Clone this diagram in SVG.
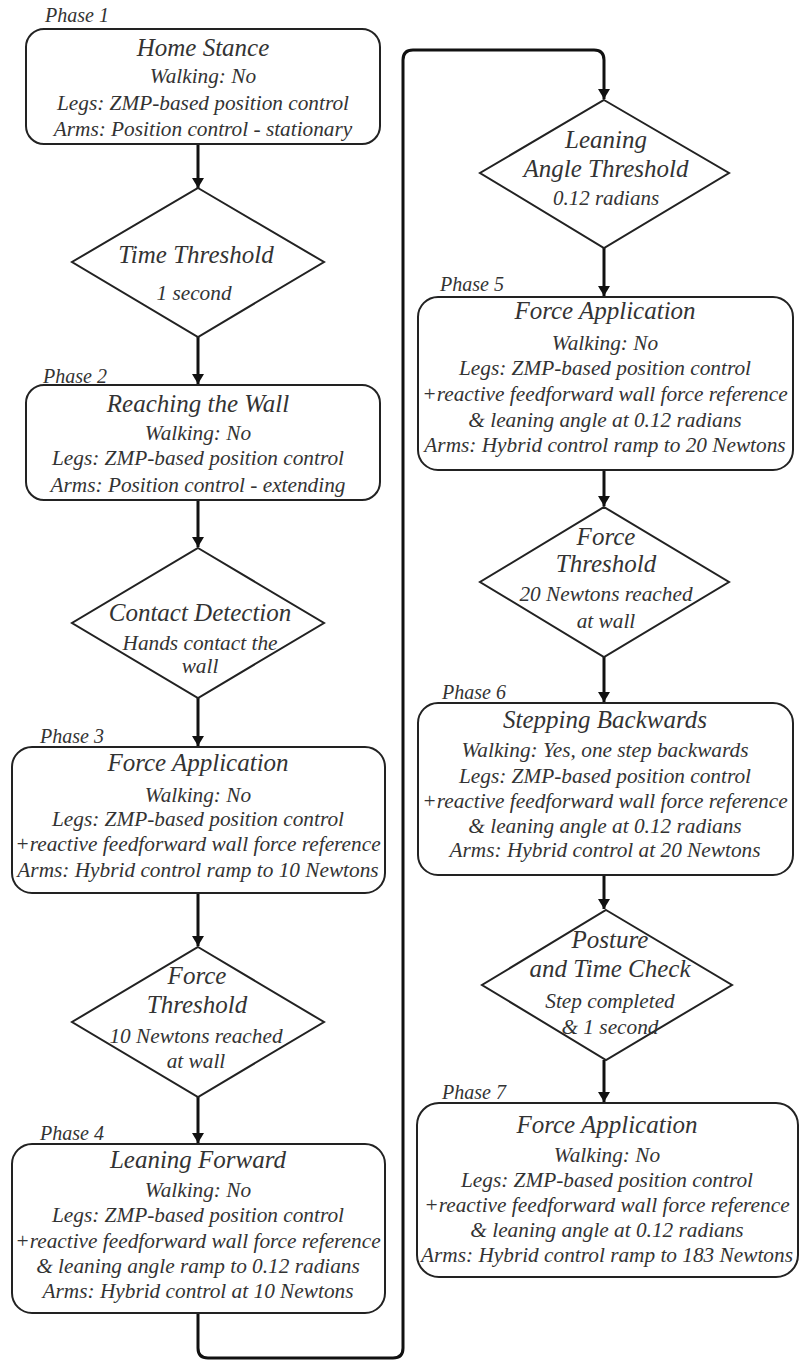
<svg xmlns="http://www.w3.org/2000/svg" width="801" height="1361" viewBox="0 0 801 1361">
<style>
.box{fill:#fff;stroke:#222;stroke-width:2}
.dia{fill:#fff;stroke:#222;stroke-width:2}
.con{fill:none;stroke:#111;stroke-width:3}
text{font-family:"Liberation Serif","Times New Roman",serif;font-style:italic;fill:#333;text-anchor:middle}
.ph{font-size:20px;text-anchor:start}
.ti{font-size:25px}
.bd{font-size:21.3px}
.sm{font-size:21px}
</style>
<defs>
<marker id="ah" markerWidth="10" markerHeight="14" refX="10" refY="7" orient="auto" markerUnits="userSpaceOnUse">
<path d="M0,1 L10,7 L0,13 Z" fill="#111"/>
</marker>
</defs>
<rect width="801" height="1361" fill="#fff"/>
<g id="connectors">
<line class="con" x1="198" y1="144" x2="198" y2="188" marker-end="url(#ah)"/>
<line class="con" x1="198" y1="337" x2="198" y2="384" marker-end="url(#ah)"/>
<line class="con" x1="198" y1="500" x2="198" y2="547" marker-end="url(#ah)"/>
<line class="con" x1="198" y1="698" x2="198" y2="746" marker-end="url(#ah)"/>
<line class="con" x1="198" y1="893" x2="198" y2="946" marker-end="url(#ah)"/>
<line class="con" x1="198" y1="1097" x2="198" y2="1143" marker-end="url(#ah)"/>
<path class="con" d="M198,1313 L198,1348 Q198,1358 208,1358 L393,1358 Q403,1358 403,1348 L403,60 Q403,50 413,50 L594,50 Q604,50 604,60 L604,99" marker-end="url(#ah)"/>
<line class="con" x1="604" y1="248" x2="604" y2="296" marker-end="url(#ah)"/>
<line class="con" x1="604" y1="470" x2="604" y2="506" marker-end="url(#ah)"/>
<line class="con" x1="604" y1="657" x2="604" y2="702" marker-end="url(#ah)"/>
<line class="con" x1="604" y1="875" x2="604" y2="909" marker-end="url(#ah)"/>
<line class="con" x1="604" y1="1060" x2="604" y2="1102" marker-end="url(#ah)"/>
</g>
<g id="phase1">
<text class="ph" x="45" y="22">Phase 1</text>
<rect class="box" x="26" y="29" width="354" height="115" rx="18"/>
<text class="ti" x="203" y="56">Home Stance</text>
<text class="bd" x="203" y="83">Walking: No</text>
<text class="bd" x="203" y="110">Legs: ZMP-based position control</text>
<text class="bd" x="203" y="136">Arms: Position control - stationary</text>
</g>
<g id="time-threshold">
<polygon class="dia" points="198,188 324,262 198,337 72,262"/>
<text class="ti" x="196" y="263">Time Threshold</text>
<text class="bd" x="194" y="300">1 second</text>
</g>
<g id="phase2">
<text class="ph" x="43" y="383">Phase 2</text>
<rect class="box" x="26" y="385" width="354" height="115" rx="18"/>
<text class="ti" x="198" y="412">Reaching the Wall</text>
<text class="bd" x="198" y="440">Walking: No</text>
<text class="bd" x="198" y="465">Legs: ZMP-based position control</text>
<text class="bd" x="198" y="492">Arms: Position control - extending</text>
</g>
<g id="contact-detection">
<polygon class="dia" points="198,548 324,623 198,698 72,623"/>
<text class="ti" x="200" y="621">Contact Detection</text>
<text class="bd" x="200" y="650">Hands contact the</text>
<text class="bd" x="200" y="673">wall</text>
</g>
<g id="phase3">
<text class="ph" x="40" y="743">Phase 3</text>
<rect class="box" x="12" y="747" width="373" height="146" rx="20"/>
<text class="ti" x="198" y="771">Force Application</text>
<text class="bd" x="198" y="802">Walking: No</text>
<text class="bd" x="198" y="826">Legs: ZMP-based position control</text>
<text class="bd" x="198" y="851">+reactive feedforward wall force reference</text>
<text class="bd" x="198" y="877">Arms: Hybrid control ramp to 10 Newtons</text>
</g>
<g id="force-threshold-10">
<polygon class="dia" points="198,947 324,1022 198,1097 72,1022"/>
<text class="ti" x="197" y="984">Force</text>
<text class="ti" x="197" y="1013">Threshold</text>
<text class="bd" x="196" y="1043">10 Newtons reached</text>
<text class="bd" x="196" y="1068">at wall</text>
</g>
<g id="phase4">
<text class="ph" x="40" y="1140">Phase 4</text>
<rect class="box" x="12" y="1144" width="373" height="169" rx="20"/>
<text class="ti" x="198" y="1168">Leaning Forward</text>
<text class="bd" x="198" y="1197">Walking: No</text>
<text class="bd" x="198" y="1222">Legs: ZMP-based position control</text>
<text class="bd" x="198" y="1248">+reactive feedforward wall force reference</text>
<text class="bd" x="198" y="1273">&amp; leaning angle ramp to 0.12 radians</text>
<text class="bd" x="198" y="1298">Arms: Hybrid control at 10 Newtons</text>
</g>
<g id="leaning-angle-threshold">
<polygon class="dia" points="604,100 729,173 604,248 480,173"/>
<text class="ti" x="606" y="148">Leaning</text>
<text class="ti" x="606" y="177">Angle  Threshold</text>
<text class="sm" x="606" y="205">0.12 radians</text>
</g>
<g id="phase5">
<text class="ph" x="440" y="291">Phase 5</text>
<rect class="box" x="418" y="297" width="375" height="173" rx="20"/>
<text class="ti" x="605" y="319">Force Application</text>
<text class="bd" x="605" y="350">Walking: No</text>
<text class="bd" x="605" y="375">Legs: ZMP-based position control</text>
<text class="bd" x="605" y="401">+reactive feedforward wall force reference</text>
<text class="bd" x="605" y="427">&amp; leaning angle at 0.12 radians</text>
<text class="bd" x="605" y="452">Arms: Hybrid control ramp to 20 Newtons</text>
</g>
<g id="force-threshold-20">
<polygon class="dia" points="604,507 729,582 604,657 480,582"/>
<text class="ti" x="606" y="545">Force</text>
<text class="ti" x="606" y="572">Threshold</text>
<text class="bd" x="606" y="601">20 Newtons reached</text>
<text class="bd" x="606" y="628">at wall</text>
</g>
<g id="phase6">
<text class="ph" x="442" y="699">Phase 6</text>
<rect class="box" x="418" y="703" width="375" height="172" rx="20"/>
<text class="ti" x="605" y="728">Stepping Backwards</text>
<text class="bd" x="605" y="757">Walking: Yes, one step backwards</text>
<text class="bd" x="605" y="783">Legs: ZMP-based position control</text>
<text class="bd" x="605" y="808">+reactive feedforward wall force reference</text>
<text class="bd" x="605" y="833">&amp; leaning angle at 0.12 radians</text>
<text class="bd" x="605" y="857">Arms: Hybrid control at 20 Newtons</text>
</g>
<g id="posture-time-check">
<polygon class="dia" points="606,910 732,985 606,1060 482,985"/>
<text class="ti" x="610" y="948">Posture</text>
<text class="ti" x="610" y="977">and Time Check</text>
<text class="bd" x="610" y="1008">Step completed</text>
<text class="bd" x="610" y="1034">&amp; 1 second</text>
</g>
<g id="phase7">
<text class="ph" x="442" y="1099">Phase 7</text>
<rect class="box" x="417" y="1103" width="381" height="174" rx="22"/>
<text class="ti" x="607" y="1133">Force Application</text>
<text class="bd" x="607" y="1162">Walking: No</text>
<text class="bd" x="607" y="1187">Legs: ZMP-based position control</text>
<text class="bd" x="607" y="1212">+reactive feedforward wall force reference</text>
<text class="bd" x="607" y="1237">&amp; leaning angle at 0.12 radians</text>
<text class="bd" x="607" y="1262">Arms: Hybrid control ramp to 183 Newtons</text>
</g>
</svg>
